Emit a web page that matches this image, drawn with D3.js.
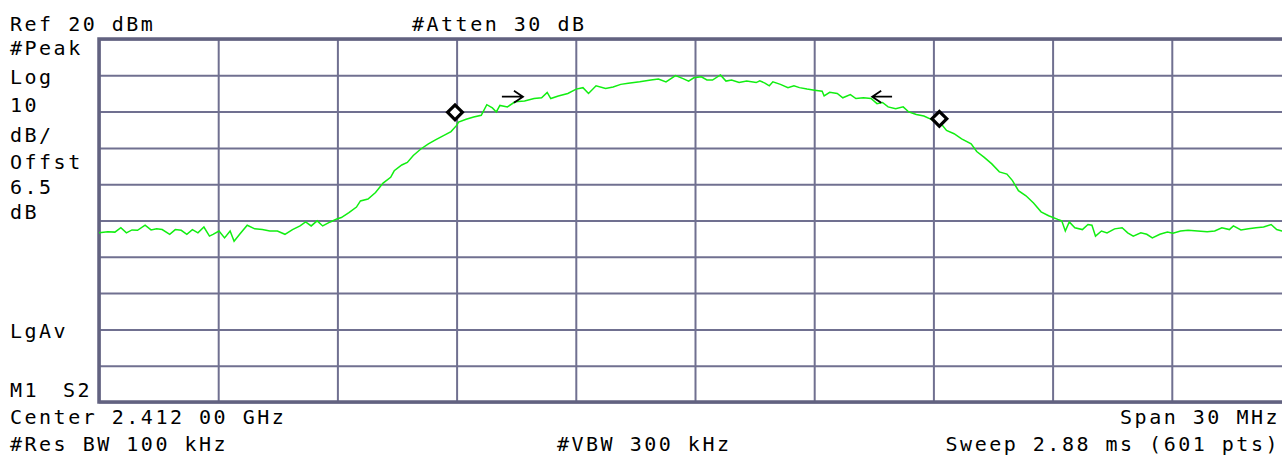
<!DOCTYPE html>
<html>
<head>
<meta charset="utf-8">
<script src="https://cdn.jsdelivr.net/npm/d3@7"></script>
<style>
  html, body { margin: 0; padding: 0; background: #fff; }
  svg { display: block; }
  text { font-family: "DejaVu Sans Mono", "Liberation Mono", monospace; font-size: 20px; letter-spacing: 2.5px; fill: #000; }
</style>
</head>
<body>
<div id="chart"></div>
<script>
// Настройки анализатора
const refLevel = 20;        // dBm
const dbPerDiv = 10;
const spanMHz = 30;
const divisions = 10;

// Трасса: смещение по частоте от начала (МГц) и уровень (dBm)
const traceMHz = [0.0,0.22,0.40,0.55,0.69,0.83,0.97,1.16,1.31,1.45,1.59,1.78,1.92,2.07,2.21,2.35,2.49,2.64,2.78,2.87,
  3.02,3.16,3.30,3.40,3.54,3.73,3.92,4.11,4.30,4.49,4.68,4.87,5.06,5.20,5.34,5.49,5.63,5.82,6.00,6.10,
  6.29,6.48,6.58,6.77,6.96,7.15,7.34,7.43,7.62,7.76,7.91,8.10,8.29,8.48,8.67,8.86,9.00,9.05,9.24,9.43,
  9.62,9.76,9.90,10.00,10.09,10.28,10.47,10.71,10.95,11.14,11.28,11.37,11.56,11.80,12.01,12.18,12.32,12.51,12.75,12.94,
  13.13,13.32,13.61,13.89,14.08,14.27,14.51,14.70,14.84,
  14.97,15.16,15.30,15.44,15.64,15.78,15.92,16.11,16.30,16.54,16.63,16.77,16.87,16.96,17.15,17.34,17.49,17.63,17.82,18.01,
  18.20,18.25,18.39,18.58,18.72,18.91,19.05,19.24,19.43,19.58,19.72,19.86,20.05,20.24,20.38,20.57,20.76,21.00,21.19,21.33,
  21.52,21.71,21.95,22.09,22.28,22.47,22.66,22.85,22.99,23.14,23.33,23.52,23.71,23.90,24.13,24.23,24.32,24.42,24.56,24.75,
  24.89,24.99,25.08,25.23,25.37,25.56,25.75,25.89,26.03,26.22,26.37,26.51,26.70,26.89,27.03,27.22,27.41,27.65,27.89,28.08,
  28.26,28.45,28.55,28.74,28.93,29.12,29.31,29.50,29.64,29.77,30.0];
const traceDbm = [-33.4,-33.1,-33.2,-32.0,-33.4,-32.6,-32.7,-31.3,-32.6,-32.3,-32.5,-33.8,-32.5,-32.7,-33.8,-32.5,-33.4,-31.8,-34.3,-33.8,
  -32.9,-34.8,-32.9,-35.7,-33.8,-31.3,-32.3,-32.5,-32.9,-32.9,-33.8,-32.5,-31.5,-30.4,-31.5,-30.1,-31.5,-30.4,-29.5,-29.2,
  -27.8,-26.3,-24.6,-24.1,-22.3,-19.7,-18.1,-16.3,-14.7,-14.0,-12.1,-10.3,-8.9,-7.7,-6.6,-5.5,-3.8,-2.9,-2.1,-1.5,
  -1.0,1.9,1.0,-0.1,1.7,1.3,2.7,2.9,3.6,3.8,5.3,3.6,4.3,5.0,6.2,6.6,5.0,7.1,6.4,6.8,
  7.5,7.8,8.2,8.7,9.0,8.2,9.9,9.1,8.4,
  9.3,9.6,8.7,8.7,10.1,8.4,8.7,8.0,8.4,8.0,8.5,7.8,7.1,8.2,7.5,6.6,7.1,6.6,6.2,5.9,
  5.6,4.3,5.3,5.0,3.8,4.7,3.6,3.8,3.6,2.2,2.5,1.3,0.8,1.3,-0.1,-0.8,-1.2,-2.4,-3.3,-5.2,
  -6.1,-7.5,-8.9,-11.0,-12.6,-14.4,-16.6,-17.2,-19.0,-21.8,-23.2,-25.2,-27.6,-28.7,-29.7,-30.1,-32.9,-30.4,-32.0,-32.5,
  -31.1,-31.3,-34.3,-32.9,-33.4,-32.3,-32.0,-33.4,-34.3,-33.4,-33.8,-34.8,-33.8,-33.2,-33.5,-32.9,-32.7,-32.9,-33.1,-32.9,
  -32.0,-32.5,-31.5,-32.6,-32.3,-32.0,-31.8,-31.1,-32.5,-32.9,-32.7];

// Маркеры (ромбы) и стрелки полосы
const markerMHz = [8.96, 21.15];
const markerDbm = [-0.2, -2.0];
const arrowFromMHz = [10.14, 19.96];
const arrowToMHz = [10.67, 19.46];
const arrowDbm = [4.1, 4.1];

// Подписи экрана
const labels = [
  { t: 'Ref 20 dBm', x: 10, y: 31 },
  { t: '#Atten 30 dB', x: 412, y: 31 },
  { t: '#Peak', x: 10, y: 55 },
  { t: 'Log', x: 10, y: 84 },
  { t: '10', x: 10, y: 112 },
  { t: 'dB/', x: 10, y: 142 },
  { t: 'Offst', x: 10, y: 169 },
  { t: '6.5', x: 10, y: 194 },
  { t: 'dB', x: 10, y: 219 },
  { t: 'LgAv', x: 10, y: 338 },
  { t: 'M1', x: 10, y: 397 },
  { t: 'S2', x: 63, y: 397 },
  { t: 'Center 2.412 00 GHz', x: 10, y: 424 },
  { t: '#Res BW 100 kHz', x: 10, y: 451 },
  { t: '#VBW 300 kHz', x: 557, y: 451 },
  { t: 'Span 30 MHz', x: 1280, y: 424, end: true },
  { t: 'Sweep 2.88 ms (601 pts)', x: 1280, y: 451, end: true }
];

const width = 1282, height = 457;
const plotLeft = 99, plotTop = 39, plotW = 1192, plotH = 363;

const svg = d3.select('#chart').append('svg')
  .attr('width', width).attr('height', height);

const x = d3.scaleLinear().domain([0, spanMHz]).range([plotLeft, plotLeft + plotW]);
const y = d3.scaleLinear().domain([refLevel - dbPerDiv * divisions, refLevel]).range([plotTop + plotH, plotTop]);

// Сетка
const gridColor = '#707090';
const gx = svg.append('g').attr('transform', `translate(0,${plotTop + plotH})`)
  .call(d3.axisBottom(x).tickValues(d3.range(0, spanMHz + 0.1, spanMHz / divisions)).tickSize(-plotH).tickFormat(''));
const gy = svg.append('g').attr('transform', `translate(${plotLeft},0)`)
  .call(d3.axisLeft(y).tickValues(d3.range(refLevel - dbPerDiv * divisions, refLevel + 1, dbPerDiv)).tickSize(-plotW).tickFormat(''));
[gx, gy].forEach(g => {
  g.select('.domain').remove();
  g.selectAll('.tick line').attr('stroke', gridColor).attr('stroke-width', 2);
});

// Рамка
svg.append('rect')
  .attr('x', plotLeft).attr('y', plotTop).attr('width', plotW).attr('height', plotH)
  .attr('fill', 'none').attr('stroke', '#626280').attr('stroke-width', 3.5);

// Трасса
const pts = traceMHz.map((f, i) => [f, traceDbm[i]]);
svg.append('path')
  .datum(pts)
  .attr('fill', 'none')
  .attr('stroke', '#11ee11')
  .attr('stroke-width', 1.5)
  .attr('d', d3.line().x(d => x(d[0])).y(d => y(d[1])));

// Стрелки
arrowFromMHz.forEach((f0, i) => {
  const x0 = x(f0), x1 = x(arrowToMHz[i]), yy = y(arrowDbm[i]);
  const dir = x1 > x0 ? 1 : -1;
  svg.append('path')
    .attr('d', `M${x0},${yy}H${x1}M${x1 - dir * 9},${yy - 6}L${x1},${yy}L${x1 - dir * 9},${yy + 6}`)
    .attr('fill', 'none').attr('stroke', '#000').attr('stroke-width', 1.8);
});

// Маркеры
svg.selectAll('.marker')
  .data(markerMHz.map((f, i) => [f, markerDbm[i]]))
  .enter().append('path')
  .attr('class', 'marker')
  .attr('transform', d => `translate(${x(d[0])},${y(d[1])}) rotate(45)`)
  .attr('d', d3.symbol(d3.symbolSquare, 110))
  .attr('fill', '#fff').attr('stroke', '#000').attr('stroke-width', 3.2);

// Текст
svg.selectAll('.lbl')
  .data(labels)
  .enter().append('text')
  .attr('class', 'lbl')
  .attr('x', d => d.x).attr('y', d => d.y)
  .attr('text-anchor', d => d.end ? 'end' : 'start')
  .text(d => d.t);
</script>
</body>
</html>
